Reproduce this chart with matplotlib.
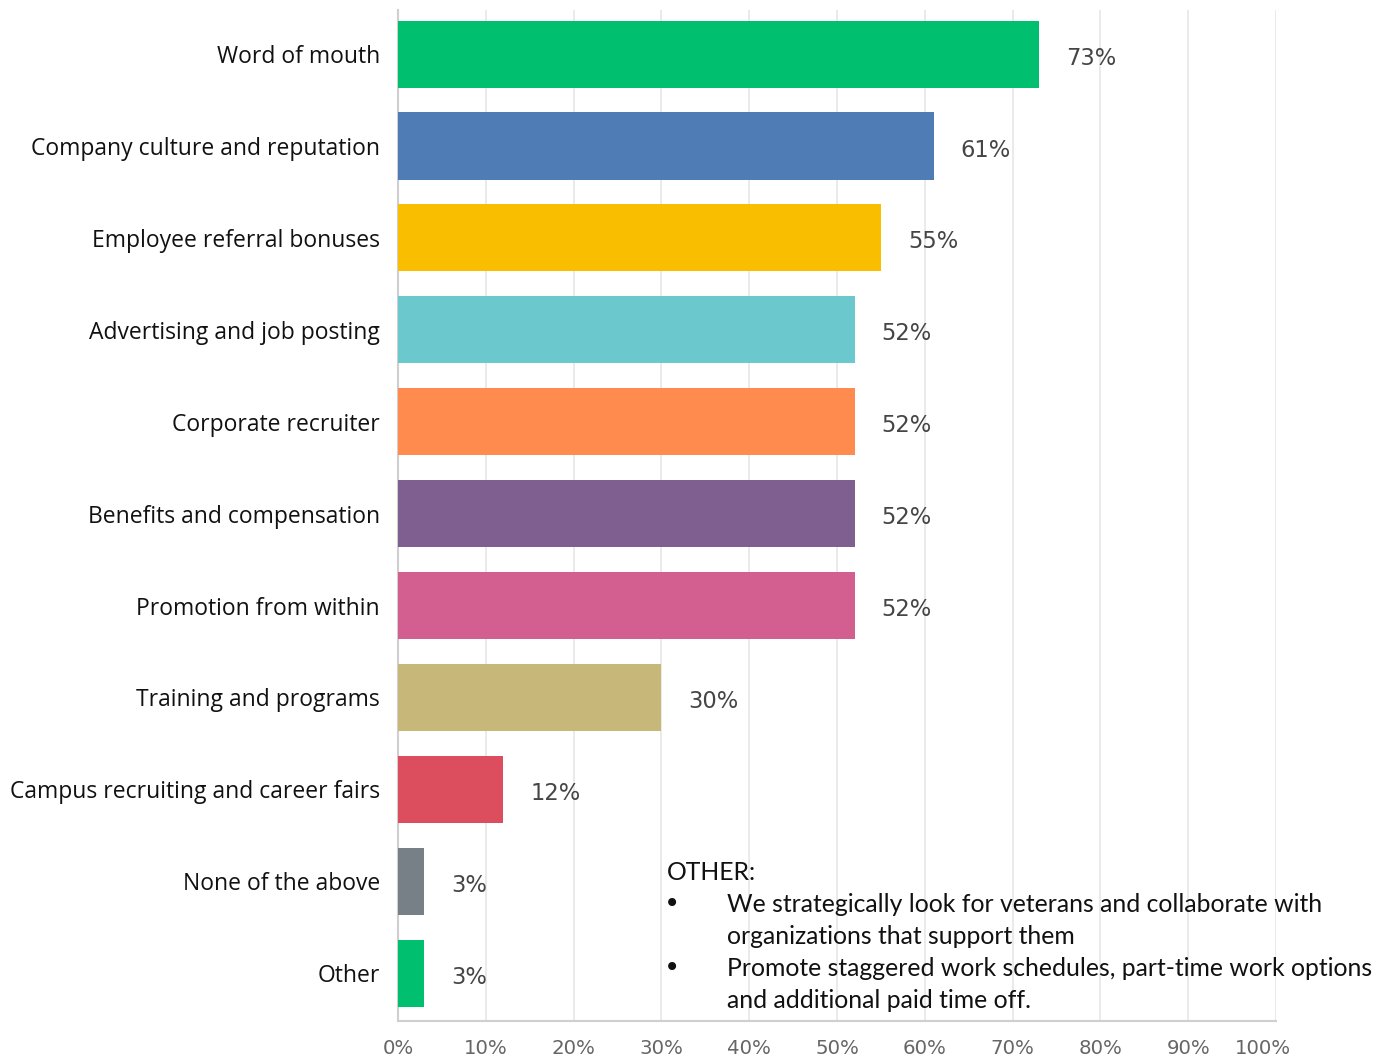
import matplotlib
matplotlib.use("Agg")
import matplotlib.pyplot as plt
from matplotlib.ticker import FuncFormatter
from matplotlib.transforms import ScaledTranslation

categories = [
    "Word of mouth",
    "Company culture and reputation",
    "Employee referral bonuses",
    "Advertising and job posting",
    "Corporate recruiter",
    "Benefits and compensation",
    "Promotion from within",
    "Training and programs",
    "Campus recruiting and career fairs",
    "None of the above",
    "Other",
]
values = [73, 61, 55, 52, 52, 52, 52, 30, 12, 3, 3]
colors = [
    "#00BF6F", "#507CB6", "#F9BE00", "#6BC8CD", "#FF8B4F", "#7F5F90",
    "#D25F90", "#C7B879", "#DC4E5E", "#768086", "#00BF6F",
]
x_ticks = list(range(0, 101, 10))

other_title = "OTHER:"
other_items = [
    "We strategically look for veterans and collaborate with\norganizations that support them",
    "Promote staggered work schedules, part-time work options\nand additional paid time off.",
]

W, H = 1384, 1060
fig = plt.figure(figsize=(W / 100, H / 100), dpi=100)
ax = fig.add_axes([398 / W, 1 - 1021 / H, (1276 - 398) / W, (1021 - 10) / H])

ypos = list(range(len(categories)))
ax.barh(ypos, values, height=0.73, color=colors, zorder=3)

ax.set_xlim(0, 100)
ax.set_ylim(10.52, -0.48)

ax.set_xticks(x_ticks)
ax.xaxis.set_major_formatter(FuncFormatter(lambda v, _: f"{int(v)}%"))
ax.grid(axis="x", color="#e8e8e8", linewidth=1.3, zorder=0)
ax.set_axisbelow(True)

for s in ["top", "right"]:
    ax.spines[s].set_visible(False)
for s in ["left", "bottom"]:
    ax.spines[s].set_color("#cfcfcf")
    ax.spines[s].set_linewidth(1.5)

ax.tick_params(axis="x", length=0, pad=13, labelsize=14.2, labelcolor="#666666")
xlabels = ax.get_xticklabels()
for lab in xlabels:
    lab.set_fontfamily("DejaVu Sans")
# nudge the last tick label inward so it stays on the canvas
xlabels[-1].set_transform(xlabels[-1].get_transform()
                          + ScaledTranslation(-13 / 100, 0, fig.dpi_scale_trans))

ax.set_yticks(ypos)
ax.set_yticklabels(categories, fontsize=16.5, fontfamily="Open Sans", color="#111111")
ax.tick_params(axis="y", length=0, pad=13)

for y, v in zip(ypos, values):
    ax.annotate(f"{v}%", xy=(v, y), xytext=(27, -4), textcoords="offset pixels",
                ha="left", va="center", fontsize=16.3, fontfamily="DejaVu Sans",
                color="#454545")

# Free-text responses listed under "Other"
fs_other = 17.8
fig.text(667 / W, 1 - 872 / H, other_title, fontsize=fs_other, fontfamily="Lato",
         va="center", ha="left", color="#111111")
line_h = 32
row = 1
for item in other_items:
    lines = item.split("\n")
    fig.text(672 / W, 1 - (872 + row * line_h) / H, "\u2022", fontsize=20,
             fontfamily="DejaVu Sans", va="center", ha="center", color="#111111")
    for ln in lines:
        fig.text(727 / W, 1 - (872 + row * line_h) / H, ln, fontsize=fs_other,
                 fontfamily="Lato", va="center", ha="left", color="#111111")
        row += 1

fig.savefig("out.png", dpi=100)
